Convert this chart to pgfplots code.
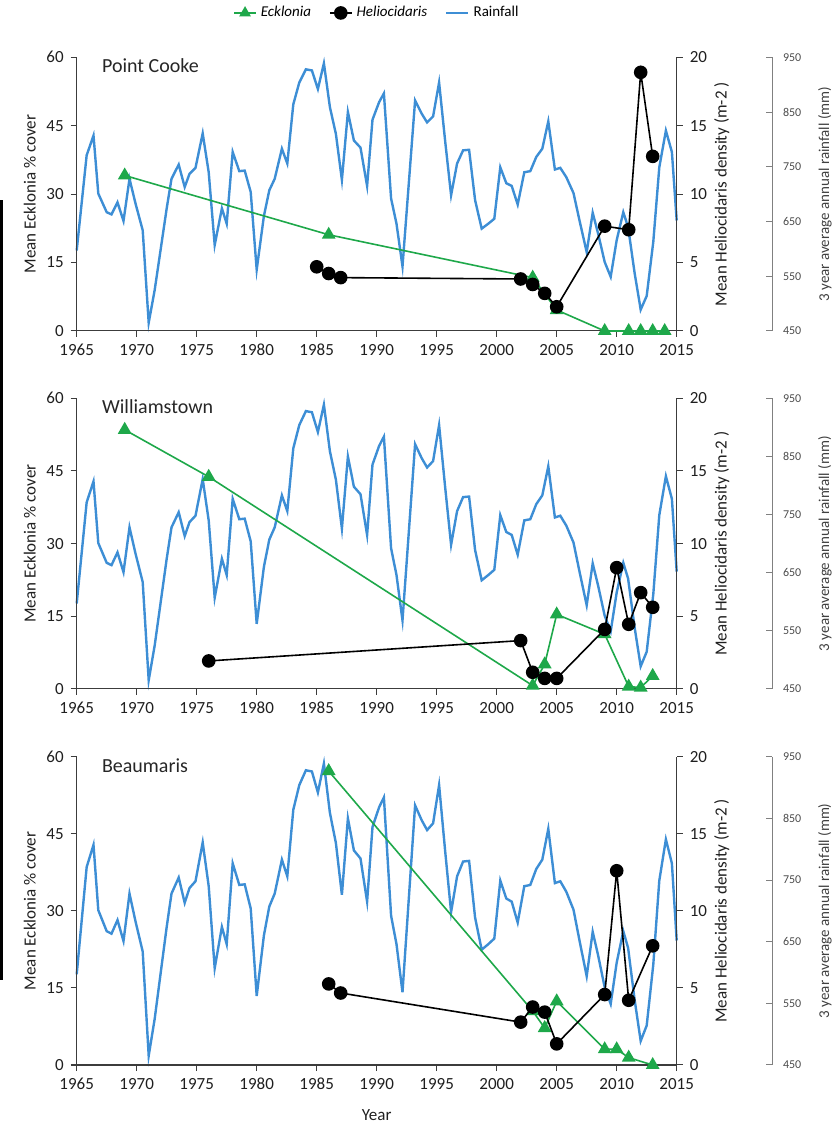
\documentclass[border=0pt]{standalone}
\usepackage{fontspec}
\setmainfont{Carlito}
\usepackage{pgfplots}
\pgfplotsset{compat=1.18}
\usepackage{pgfplotstable}

\definecolor{rainblue}{RGB}{61,142,213}
\definecolor{eckgreen}{RGB}{30,168,74}
\definecolor{axgray}{RGB}{60,60,60}

\pgfplotstableread{
year mm
1965.0 597
1965.83 771
1966.4 807
1966.8 701
1967.5 667
1967.9 663
1968.4 685
1968.9 651
1969.4 728
1969.9 683
1970.5 634
1971.0 465
1971.5 525
1972.5 674
1972.9 728
1973.5 754
1974.0 713
1974.4 737
1974.9 748
1975.5 811
1976.0 740
1976.5 607
1977.1 674
1977.5 646
1978.0 777
1978.55 742
1979.0 743
1979.5 704
1980.0 562
1980.6 660
1981.05 707
1981.5 728
1982.1 783
1982.55 756
1983.05 864
1983.55 904
1984.1 928
1984.6 926
1985.1 892
1985.6 939
1986.1 859
1986.6 810
1987.1 726
1987.6 850
1988.1 798
1988.65 785
1989.2 715
1989.65 836
1990.2 868
1990.6 884
1991.2 692
1991.65 646
1992.15 568
1993.2 871
1993.75 847
1994.2 831
1994.7 842
1995.2 904
1995.7 798
1996.2 698
1996.7 756
1997.2 780
1997.7 781
1998.2 689
1998.75 637
1999.3 646
1999.8 655
2000.3 749
2000.8 720
2001.25 715
2001.75 681
2002.3 740
2002.8 742
2003.3 768
2003.8 783
2004.3 833
2004.85 745
2005.3 748
2005.8 731
2006.4 702
2006.9 652
2007.5 594
2008.0 666
2008.45 628
2009.0 576
2009.5 549
2010.0 616
2010.55 667
2010.95 640
2011.5 555
2012.0 489
2012.5 514
2013.05 613
2013.55 749
2014.1 816
2014.6 777
2015.0 652
}\raintab

\pgfplotstableread{
year cover
1969 34.1
1986 21.1
2003 11.7
2005 4.6
2009 0
2011 0
2012 0
2013 0
2014 0
}\eckA
\pgfplotstableread{
year dens
1985 4.69
1986 4.2
1987 3.9
2002 3.8
2003 3.4
2004 2.75
2005 1.77
2009 7.66
2011 7.4
2012 18.9
2013 12.76
}\helA

\pgfplotstableread{
year cover
1969 53.5
1976 43.8
2003 0.7
2004 5.1
2005 15.4
2009 11.3
2011 0.5
2012 0.3
2013 2.7
}\eckB
\pgfplotstableread{
year dens
1976 1.93
2002 3.33
2003 1.15
2004 0.73
2005 0.73
2009 4.1
2010 8.35
2011 4.45
2012 6.63
2013 5.62
}\helB

\pgfplotstableread{
year cover
1986 57.2
2003 10.5
2004 7.2
2005 12.4
2009 3.07
2010 3.07
2011 1.43
2013 0
}\eckC
\pgfplotstableread{
year dens
1986 5.26
1987 4.67
2002 2.78
2003 3.76
2004 3.43
2005 1.37
2009 4.57
2010 12.6
2011 4.2
2013 7.73
}\helC

\tikzset{ttl/.style={anchor=west, font=\fontsize{10}{12}\selectfont, color=black!85}}

\pgfplotsset{
  base/.style={scale only axis, width=300pt, xmin=1965, xmax=2015, clip=false,
    /pgf/number format/assume math mode=true, /pgf/number format/1000 sep={},
    tick label style={font=\fontsize{8.5}{10}\selectfont, color=black!88},
    label style={font=\fontsize{8.5}{10}\selectfont, color=black!88},
    axis line style={axgray, line width=0.5pt},
    tick style={axgray, line width=0.5pt},
    tick align=outside, major tick length=3pt},
  rainax/.style={base, ymin=450, ymax=950, hide x axis, hide y axis},
  eckax/.style={base, ymin=0, ymax=60, ytick={0,15,30,45,60},
    xtick={1965,1970,...,2015}, axis x line*=bottom, axis y line*=left,
    ylabel={Mean Ecklonia \% cover},
    ylabel style={at={(axis description cs:-0.078,0.5)}, anchor=center}},
  helax/.style={base, ymin=0, ymax=20, ytick={0,5,10,15,20},
    hide x axis, axis y line*=right,
    ylabel={Mean Heliocidaris density (m-2 )},
    ylabel style={at={(axis description cs:1.075,0.5)}, anchor=center}},
  rscale/.style={scale only axis, width=1pt, xmin=0, xmax=1, ymin=450, ymax=950,
    ytick={450,550,650,750,850,950}, hide x axis, axis y line*=right,
    tick align=inside, major tick length=3pt,
    axis line style={black!50, line width=0.5pt}, tick style={black!50, line width=0.5pt},
    /pgf/number format/assume math mode=true,
    yticklabel style={font=\fontsize{6}{7}\selectfont, color=black!70, xshift=2pt},
    ylabel={3 year average annual rainfall (mm)},
    ylabel style={font=\fontsize{7.5}{9}\selectfont, color=black!75,
      at={(axis description cs:27.5,0.5)}, anchor=center}},
  rainline/.style={rainblue, line width=1.2pt, mark=none},
  eckline/.style={eckgreen, line width=0.8pt, mark=triangle*, mark size=3.2pt},
  helline/.style={black, line width=0.8pt, mark=*, mark size=3pt},
}

\begin{document}
\begin{tikzpicture}
\useasboundingbox (0,0) rectangle (419pt,562.5pt);

% artifact bar at left edge
\fill[black] (0,72.5pt) rectangle (1.5pt,462.5pt);

% ---------- Panel 1: Point Cooke ----------
\begin{axis}[rainax, height=136.85pt, at={(38.35pt,397pt)}, anchor=south west]
  \addplot[rainline] table[x=year,y=mm] {\raintab};
\end{axis}
\begin{axis}[eckax, height=136.85pt, at={(38.35pt,397pt)}, anchor=south west]
  \addplot[eckline] table[x=year,y=cover] {\eckA};
  \node[ttl] at (rel axis cs:0.0305,0.97) {Point Cooke};
\end{axis}
\begin{axis}[helax, height=136.85pt, at={(38.35pt,397pt)}, anchor=south west,
  legend columns=3,
  legend style={at={(axis description cs:0.502,1.162)}, anchor=center, draw=none, fill=none,
    font=\fontsize{7.5}{9}\selectfont, /tikz/every even column/.append style={column sep=7pt}},
  legend image code/.code={\draw[mark repeat=2,mark phase=2,#1] plot coordinates {(0pt,0pt) (5.5pt,0pt) (11pt,0pt)};}]
  \addlegendimage{eckline, mark size=2.6pt}
  \addlegendentry{\textit{Ecklonia}}
  \addplot[helline] table[x=year,y=dens] {\helA};
  \addlegendentry{\textit{Heliocidaris}}
  \addlegendimage{rainline}
  \addlegendentry{Rainfall}
\end{axis}
\begin{axis}[rscale, height=136.85pt, at={(386pt,397pt)}, anchor=south east]
\end{axis}

% ---------- Panel 2: Williamstown ----------
\begin{axis}[rainax, height=145.35pt, at={(38.35pt,218pt)}, anchor=south west]
  \addplot[rainline] table[x=year,y=mm] {\raintab};
\end{axis}
\begin{axis}[eckax, height=145.35pt, at={(38.35pt,218pt)}, anchor=south west]
  \addplot[eckline] table[x=year,y=cover] {\eckB};
  \node[ttl] at (rel axis cs:0.0305,0.971) {Williamstown};
\end{axis}
\begin{axis}[helax, height=145.35pt, at={(38.35pt,218pt)}, anchor=south west]
  \addplot[helline] table[x=year,y=dens] {\helB};
\end{axis}
\begin{axis}[rscale, height=145.35pt, at={(386pt,218pt)}, anchor=south east]
\end{axis}

% ---------- Panel 3: Beaumaris ----------
\begin{axis}[rainax, height=154.15pt, at={(38.35pt,30pt)}, anchor=south west]
  \addplot[rainline] table[x=year,y=mm] {\raintab};
\end{axis}
\begin{axis}[eckax, height=154.15pt, at={(38.35pt,30pt)}, anchor=south west,
  xlabel={Year}, xlabel style={at={(axis description cs:0.5,0)}, anchor=center, yshift=-25pt}]
  \addplot[eckline] table[x=year,y=cover] {\eckC};
  \node[ttl] at (rel axis cs:0.0305,0.972) {Beaumaris};
\end{axis}
\begin{axis}[helax, height=154.15pt, at={(38.35pt,30pt)}, anchor=south west]
  \addplot[helline] table[x=year,y=dens] {\helC};
\end{axis}
\begin{axis}[rscale, height=154.15pt, at={(386pt,30pt)}, anchor=south east]
\end{axis}

\end{tikzpicture}
\end{document}
